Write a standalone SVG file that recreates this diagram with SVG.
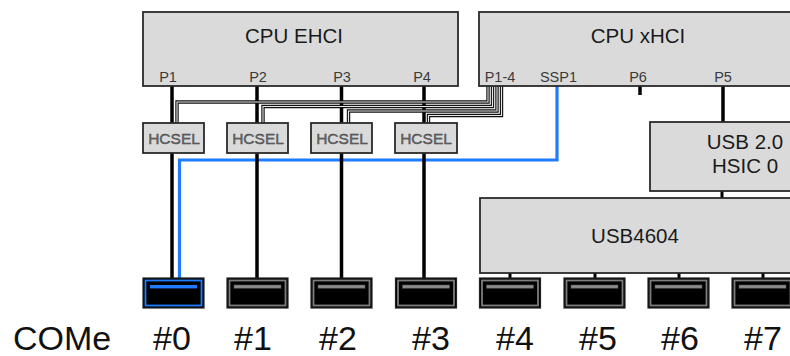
<svg xmlns="http://www.w3.org/2000/svg" width="790" height="356" viewBox="0 0 790 356">
<style>
.box{fill:#dadada;stroke:#2a2a2a;stroke-width:1.8}
.t{font-family:"Liberation Sans",Arial,sans-serif;fill:#1a1a1a;text-anchor:middle}
.title{font-size:20.5px}
.pl{font-size:14.5px;fill:#3a3a3a}
.hc{font-size:15.5px;fill:#6a6a6a;stroke:#333;stroke-width:0.35}
.big{font-size:34px;fill:#111}
.blk{stroke:#000;stroke-width:3.5;fill:none}
.stub{stroke:#000;stroke-width:3;fill:none}
.busO{stroke:#111;stroke-width:3.4;fill:none}
.busI{stroke:#e8e8e8;stroke-width:1.1;fill:none}
.blue{stroke:#1f7cff;stroke-width:3.2;fill:none}
.cO{fill:#000;stroke:#222;stroke-width:1.2}
.cR{fill:none;stroke:#7d7d7d;stroke-width:1.8}
.cT{fill:#8c8c8c;stroke:#555;stroke-width:0.6}
.cRb{fill:none;stroke:#1f7cff;stroke-width:1.8}
.cTb{fill:#1f7cff}
</style>
<defs>
<g id="rcpt">
<rect class="cO" x="0" y="0" width="61" height="30"/>
<rect class="cR" x="2.5" y="2.5" width="56" height="25"/>
<rect class="cT" x="7" y="7" width="47" height="3.2"/>
</g>
</defs>

<g id="connectors">
<path class="blue" d="M557,86 V160 H179.5 V279"/>
<path class="blk" d="M172,86 V279"/>
<path class="blk" d="M257,86 V279"/>
<path class="blk" d="M341.5,86 V279"/>
<path class="blk" d="M424,86 V279"/>
<path class="busO" d="M177,123 V102 H488 V86"/>
<path class="busI" d="M177,123 V102 H488 V86"/>
<path class="busO" d="M263,123 V106.5 H492.5 V86"/>
<path class="busI" d="M263,123 V106.5 H492.5 V86"/>
<path class="busO" d="M348.5,123 V111 H497 V86"/>
<path class="busI" d="M348.5,123 V111 H497 V86"/>
<path class="busO" d="M428.5,123 V115.5 H501.5 V86"/>
<path class="busI" d="M428.5,123 V115.5 H501.5 V86"/>
<path class="blk" d="M640,86 V95"/>
<path class="blk" d="M723,86 V122"/>
<path class="stub" d="M722,191 V198"/>
<path class="stub" d="M510,273 V279"/>
<path class="stub" d="M595,273 V279"/>
<path class="stub" d="M679,273 V279"/>
<path class="stub" d="M763,273 V279"/>
</g>

<g id="cpu-ehci">
<rect class="box" x="143" y="12" width="315" height="74"/>
<text class="t title" x="294" y="43">CPU EHCI</text>
<text class="t pl" x="168" y="82">P1</text>
<text class="t pl" x="258" y="82">P2</text>
<text class="t pl" x="342" y="82">P3</text>
<text class="t pl" x="422" y="82">P4</text>
</g>

<g id="cpu-xhci">
<rect class="box" x="479" y="12" width="330" height="74"/>
<text class="t title" x="638" y="43">CPU xHCI</text>
<text class="t pl" x="500" y="82">P1-4</text>
<text class="t pl" x="558.5" y="82">SSP1</text>
<text class="t pl" x="638" y="82">P6</text>
<text class="t pl" x="723" y="82">P5</text>
</g>

<g id="hcsel1"><rect class="box" x="143" y="123" width="61" height="30"/><text class="t hc" x="174" y="144">HCSEL</text></g>
<g id="hcsel2"><rect class="box" x="227" y="123" width="61" height="30"/><text class="t hc" x="258" y="144">HCSEL</text></g>
<g id="hcsel3"><rect class="box" x="311" y="123" width="61" height="30"/><text class="t hc" x="342" y="144">HCSEL</text></g>
<g id="hcsel4"><rect class="box" x="395" y="123" width="62" height="30"/><text class="t hc" x="426" y="144">HCSEL</text></g>

<g id="usb20-hsic0">
<rect class="box" x="650" y="122" width="160" height="69"/>
<text class="t title" x="745" y="149">USB 2.0</text>
<text class="t title" x="745" y="173">HSIC 0</text>
</g>

<g id="usb4604">
<rect class="box" x="480" y="198" width="330" height="75"/>
<text class="t title" x="635" y="243">USB4604</text>
</g>

<g id="port0">
<rect class="cO" x="143" y="278" width="61" height="30"/>
<rect class="cRb" x="145.5" y="280.5" width="56" height="25"/>
<rect class="cTb" x="150" y="285" width="47" height="3.4"/>
</g>
<g id="port1"><use href="#rcpt" x="227" y="278"/></g>
<g id="port2"><use href="#rcpt" x="311" y="278"/></g>
<g id="port3"><use href="#rcpt" x="395.5" y="278"/></g>
<g id="port4"><use href="#rcpt" x="479.5" y="278"/></g>
<g id="port5"><use href="#rcpt" x="564" y="278"/></g>
<g id="port6"><use href="#rcpt" x="648" y="278"/></g>
<g id="port7"><use href="#rcpt" x="732" y="278"/></g>

<g id="labels">
<text class="t big" x="13" y="350" style="text-anchor:start">COMe</text>
<text class="t big" x="172" y="350">#0</text>
<text class="t big" x="253" y="350">#1</text>
<text class="t big" x="338" y="350">#2</text>
<text class="t big" x="431" y="350">#3</text>
<text class="t big" x="515" y="350">#4</text>
<text class="t big" x="598" y="350">#5</text>
<text class="t big" x="680" y="350">#6</text>
<text class="t big" x="763" y="350">#7</text>
</g>
</svg>
